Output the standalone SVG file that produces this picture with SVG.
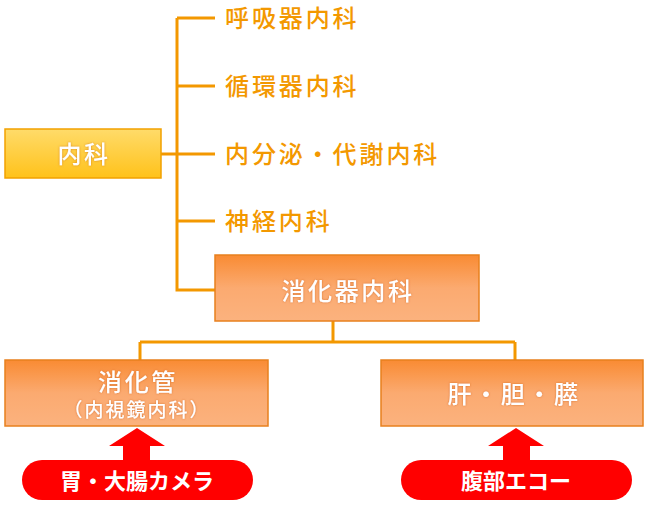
<svg xmlns="http://www.w3.org/2000/svg" width="650" height="512" viewBox="0 0 650 512">
<style>
.t{font-family:"Noto Sans CJK JP","Noto Sans CJK SC",sans-serif;}
.lbl{font-size:24px;fill:#F39800;font-weight:500;letter-spacing:2.9px;}
.w{fill:#fff;text-anchor:middle;font-size:24px;font-weight:500;letter-spacing:2.6px;filter:url(#sh);}
.wb{fill:#fff;text-anchor:middle;font-size:22px;font-weight:bold;}
.ln{stroke:#F39800;stroke-width:3;fill:none;}
.ob{fill:url(#og);stroke:#E8801E;stroke-width:1.5;}
</style>
<defs>
<linearGradient id="yg" x1="0" y1="0" x2="0" y2="1">
<stop offset="0" stop-color="#FFDB6A"/><stop offset="1" stop-color="#FFC21A"/>
</linearGradient>
<linearGradient id="og" x1="0" y1="0" x2="0" y2="1">
<stop offset="0" stop-color="#F98B33"/><stop offset="0.5" stop-color="#FBAA70"/><stop offset="1" stop-color="#FBB27E"/>
</linearGradient>
<filter id="sh" x="-10%" y="-20%" width="120%" height="140%">
<feGaussianBlur in="SourceAlpha" stdDeviation="1.2" result="b"/>
<feFlood flood-color="#C05000" flood-opacity="0.6"/>
<feComposite in2="b" operator="in"/>
<feMerge><feMergeNode/><feMergeNode in="SourceGraphic"/></feMerge>
</filter>
</defs>
<g id="connectors">
<path class="ln" d="M177 18 V290 H215 M177 18 H215 M177 86 H215 M161 154 H215 M177 221 H215"/>
<path class="ln" d="M333 321 V342 M140 342 H515 M140 342 V360 M515 342 V360"/>
<polygon fill="#FF0000" points="137,428 165,446 150,446 150,462 123,462 123,446 109,446"/>
<polygon fill="#FF0000" points="516,428 544,446 530,446 530,462 503,462 503,446 488,446"/>
</g>
<g id="naika">
<rect x="5" y="129" width="156" height="49" fill="url(#yg)" stroke="#F2A100" stroke-width="1.5"/>
<text class="t w" x="84" y="163">内科</text>
</g>
<g id="sub1"><text class="t lbl" x="225" y="27">呼吸器内科</text></g>
<g id="sub2"><text class="t lbl" x="225" y="95">循環器内科</text></g>
<g id="sub3"><text class="t lbl" x="225" y="163">内分泌・代謝内科</text></g>
<g id="sub4"><text class="t lbl" x="225" y="230">神経内科</text></g>
<g id="shoukaki">
<rect class="ob" x="215" y="255" width="264" height="66"/>
<text class="t w" x="348" y="300">消化器内科</text>
</g>
<g id="shoukakan">
<rect class="ob" x="5" y="360" width="263" height="66"/>
<text class="t w" x="138" y="391">消化管</text>
<text class="t w" x="137" y="417" style="font-size:19px;letter-spacing:2px">（内視鏡内科）</text>
</g>
<g id="kantan">
<rect class="ob" x="381" y="360" width="262" height="66"/>
<text class="t w" x="514" y="403">肝・胆・膵</text>
</g>
<g id="camera">
<rect x="22" y="460" width="231" height="40" rx="20" fill="#FF0000"/>
<text class="t wb" x="137" y="489">胃・大腸カメラ</text>
</g>
<g id="echo">
<rect x="401" y="460" width="231" height="40" rx="20" fill="#FF0000"/>
<text class="t wb" x="516" y="489">腹部エコー</text>
</g>
</svg>
